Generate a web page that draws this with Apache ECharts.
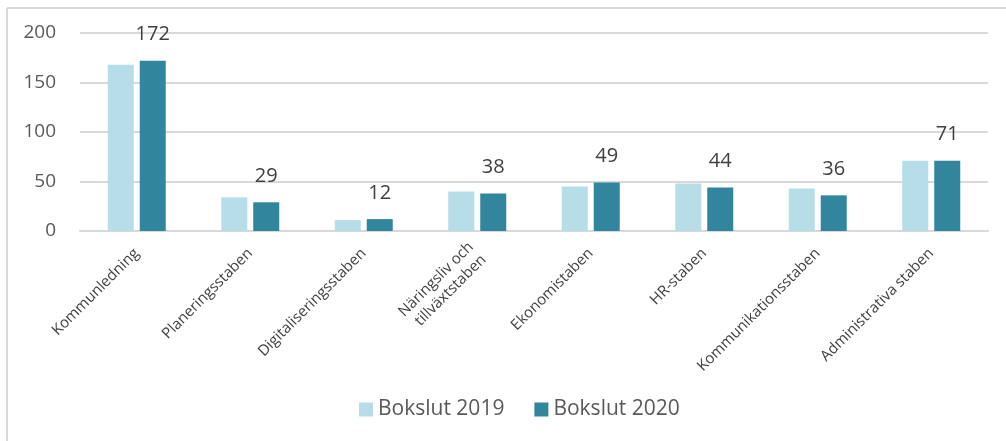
<!DOCTYPE html>
<html>
<head>
<meta charset="utf-8">
<script src="https://cdn.jsdelivr.net/npm/echarts@6/dist/echarts.min.js"></script>
<style>
  html, body { margin: 0; padding: 0; background: #fff; }
  #main { width: 1006px; height: 441px; }
</style>
</head>
<body>
<div id="main"></div>
<script>
// kategorier och värden
var categories = ['Kommunledning', 'Planeringsstaben', 'Digitaliseringsstaben', 'Näringsliv och\ntillväxtstaben',
  'Ekonomistaben', 'HR-staben', 'Kommunikationsstaben', 'Administrativa staben'];
var bokslut2019 = [168, 34, 11, 40, 45, 48, 43, 71];
var bokslut2020 = [172, 29, 12, 38, 49, 44, 36, 71];
var seriesNames = ['Bokslut 2019', 'Bokslut 2020'];

var myChart = echarts.init(document.getElementById('main'));
myChart.setOption({
  animation: false,
  color: ['#b7dde8', '#31859c'],
  graphic: [
    // ram runt diagrammet (bara topp och vänster syns)
    { type: 'line', shape: { x1: 7, y1: 8, x2: 1006, y2: 8 }, style: { stroke: '#d9d9d9', lineWidth: 2 } },
    { type: 'line', shape: { x1: 7, y1: 8, x2: 7, y2: 441 }, style: { stroke: '#d9d9d9', lineWidth: 2 } }
  ],
  grid: { left: 80, right: 18, top: 33, bottom: 210 },
  legend: {
    data: seriesNames,
    bottom: 16,
    left: 354,
    icon: 'rect',
    itemWidth: 14,
    itemHeight: 14,
    itemGap: 30,
    textStyle: { fontFamily: 'Open Sans', fontSize: 21, color: '#595959' }
  },
  xAxis: {
    type: 'category',
    data: categories,
    axisLine: { show: true, lineStyle: { color: '#d9d9d9', width: 2 } },
    axisTick: { show: false },
    axisLabel: {
      interval: 0,
      rotate: 45,
      margin: 20,
      fontFamily: 'Open Sans',
      fontSize: 15,
      color: '#404040',
      lineHeight: 18
    }
  },
  yAxis: {
    type: 'value',
    min: 0,
    max: 200,
    interval: 50,
    axisLine: { show: false },
    axisTick: { show: false },
    splitLine: { lineStyle: { color: '#d9d9d9', width: 2 } },
    axisLabel: { margin: 24, fontFamily: 'Open Sans', fontSize: 19, color: '#595959' }
  },
  series: [
    {
      name: seriesNames[0],
      type: 'bar',
      barWidth: 26,
      barGap: '23%',
      data: bokslut2019
    },
    {
      name: seriesNames[1],
      type: 'bar',
      barWidth: 26,
      barGap: '23%',
      data: bokslut2020,
      label: {
        show: true,
        position: 'top',
        distance: 16,
        fontFamily: 'Open Sans',
        fontSize: 20,
        color: '#404040'
      }
    }
  ]
});
</script>
</body>
</html>
